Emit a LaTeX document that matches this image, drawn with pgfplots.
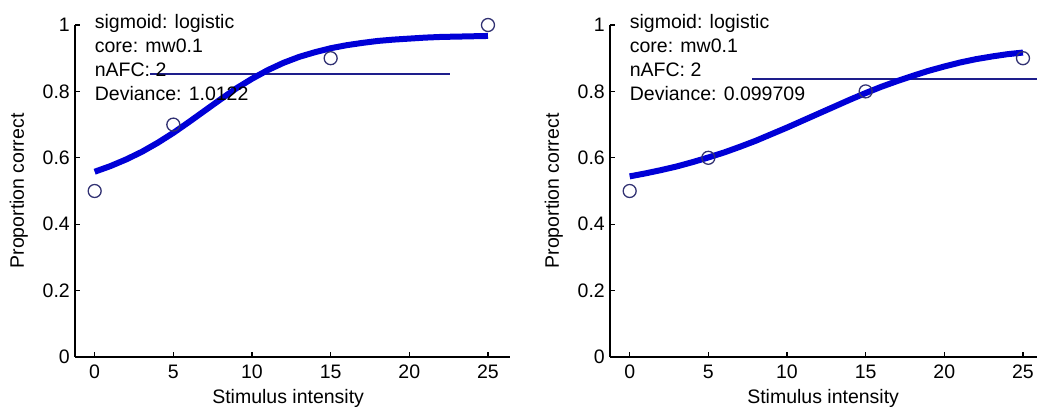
\documentclass[border=0pt]{standalone}
\usepackage{fontspec}
\setmainfont{Liberation Sans}
\usepackage{pgfplots}
\pgfplotsset{compat=1.18}

\definecolor{fitblue}{RGB}{0,0,215}
\definecolor{ptblue}{RGB}{50,50,115}
\definecolor{thrblue}{RGB}{30,30,140}

\tikzset{info/.style={anchor=base west, inner sep=0pt}}

\pgfplotsset{
  psy/.style={
    scale only axis, anchor=south west,
    width=435bp, height=332bp,
    xmin=-1.25, xmax=26.4, ymin=0, ymax=1,
    axis x line*=bottom, axis y line*=left,
    xtick pos=bottom, ytick pos=left,
    tick align=inside, major tick length=5bp,
    axis line style={line width=1.3bp, black},
    every tick/.style={line width=1.1bp, black},
    xtick={0,5,10,15,20,25},
    ytick={0,0.2,0.4,0.6,0.8,1},
    /pgf/number format/assume math mode=true,
    xticklabel style={inner sep=0pt, yshift=-8bp},
    yticklabel style={inner sep=0pt, xshift=-5bp},
    xlabel={Stimulus intensity},
    ylabel={Proportion correct},
    xlabel style={at={(axis description cs:0.49,-0.097)}, anchor=north, inner sep=0pt},
    ylabel style={at={(axis description cs:-0.108,0.5)}, anchor=south, inner sep=0pt},
    clip=false,
  },
}

\begin{document}
\begin{tikzpicture}[font=\fontsize{19.5bp}{23bp}\selectfont]
\useasboundingbox (0,0) rectangle (1037bp,407bp);
\clip (0,0) rectangle (1037bp,407bp);

% left panel
\begin{axis}[psy, at={(75bp,50bp)}]
\addplot[thrblue, line width=1.4bp] coordinates {(3.5,0.852) (22.6,0.852)};
\addplot[fitblue, line width=6bp] coordinates {
 (0,0.558) (1,0.575) (2,0.595) (3,0.618) (4,0.645) (5,0.675)
 (6,0.708) (7,0.742) (8,0.776) (9,0.809) (10,0.838) (11,0.864)
 (12,0.886) (13,0.904) (14,0.918) (15,0.930) (16,0.939) (17,0.946)
 (18,0.952) (19,0.956) (20,0.959) (21,0.962) (22,0.964) (23,0.965)
 (24,0.966) (25,0.967)
};
\addplot[ptblue, only marks, mark=o, mark size=6.5bp, line width=1.3bp] coordinates {
 (0,0.5) (5,0.7) (15,0.9) (25,1.0)
};
\node[info] at (axis cs:0,0.988) {sigmoid: logistic};
\node[info] at (axis cs:0,0.916) {core: mw0.1};
\node[info] at (axis cs:0,0.846) {nAFC: 2};
\node[info] at (axis cs:0,0.774) {Deviance: 1.0122};
\end{axis}

% right panel
\begin{axis}[psy, at={(610bp,50bp)}]
\addplot[thrblue, line width=1.4bp] coordinates {(7.8,0.837) (26.4,0.837)};
\addplot[fitblue, line width=6bp] coordinates {
 (0,0.544) (1,0.553) (2,0.563) (3,0.574) (4,0.587) (5,0.601)
 (6,0.616) (7,0.633) (8,0.651) (9,0.671) (10,0.691) (11,0.712)
 (12,0.733) (13,0.754) (14,0.775) (15,0.795) (16,0.814) (17,0.831)
 (18,0.847) (19,0.862) (20,0.875) (21,0.887) (22,0.897) (23,0.905)
 (24,0.912) (25,0.917)
};
\addplot[ptblue, only marks, mark=o, mark size=6.5bp, line width=1.3bp] coordinates {
 (0,0.5) (5,0.6) (15,0.8) (25,0.9)
};
\node[info] at (axis cs:0,0.988) {sigmoid: logistic};
\node[info] at (axis cs:0,0.916) {core: mw0.1};
\node[info] at (axis cs:0,0.846) {nAFC: 2};
\node[info] at (axis cs:0,0.774) {Deviance: 0.099709};
\end{axis}
\end{tikzpicture}
\end{document}
